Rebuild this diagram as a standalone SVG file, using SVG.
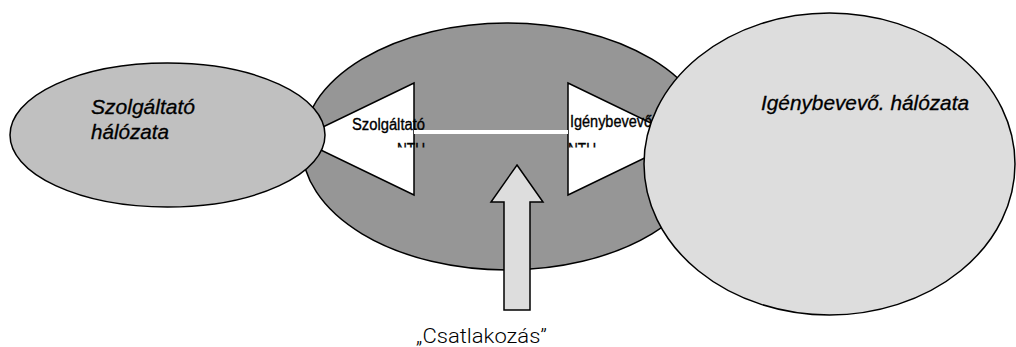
<svg xmlns="http://www.w3.org/2000/svg" width="1016" height="347" viewBox="0 0 1016 347">
<style>
.sh{stroke:#000;stroke-width:1.5}
.it{font-family:"Liberation Sans",Arial,sans-serif;font-style:italic;font-size:20px;fill:#000;stroke:#000;stroke-width:0.3}
.nt{font-family:"Liberation Sans",Arial,sans-serif;font-size:16px;fill:#000;stroke:#000;stroke-width:0.35}
.lb{font-family:Roboto,"Liberation Sans",sans-serif;font-weight:300;font-size:20px;fill:#000}
</style>
<defs>
<clipPath id="ntuclip"><rect x="380" y="140" width="240" height="7.5"/></clipPath>
</defs>
<rect width="1016" height="347" fill="#fff"/>
<g id="csatlakozasi-pont">
<ellipse class="sh" cx="507" cy="146.5" rx="205" ry="123.5" fill="#969696"/>
</g>
<g id="szolgaltato-ntu">
<polygon class="sh" points="414,83 414,195 298,139" fill="#fff"/>
<text class="nt" x="352" y="130" textLength="73" lengthAdjust="spacingAndGlyphs">Szolgáltató</text>
<text class="nt" x="397" y="154.5" textLength="28" lengthAdjust="spacingAndGlyphs" clip-path="url(#ntuclip)">NTU</text>
</g>
<g id="igenybevevo-ntu">
<polygon class="sh" points="568,83 568,195 684,139" fill="#fff"/>
<text class="nt" x="570" y="127" textLength="82" lengthAdjust="spacingAndGlyphs">Igénybevevő</text>
<text class="nt" x="568" y="154.5" textLength="28" lengthAdjust="spacingAndGlyphs" clip-path="url(#ntuclip)">NTU</text>
</g>
<g id="connectors">
<line x1="414" y1="132" x2="568" y2="132" stroke="#fff" stroke-width="4"/>
</g>
<g id="szolgaltato-halozata">
<ellipse class="sh" cx="167.5" cy="135" rx="157.5" ry="72" fill="#c0c0c0"/>
<text class="it" x="91" y="113.5" textLength="104" lengthAdjust="spacingAndGlyphs">Szolgáltató</text>
<text class="it" x="91" y="138.5" textLength="78" lengthAdjust="spacingAndGlyphs">hálózata</text>
</g>
<g id="igenybevevo-halozata">
<ellipse class="sh" cx="829.5" cy="164" rx="185.5" ry="151" fill="#dddddd"/>
<text class="it" x="761" y="109.5" textLength="208" lengthAdjust="spacingAndGlyphs">Igénybevevő. hálózata</text>
</g>
<g id="csatlakozas">
<polygon class="sh" points="517,165 543,202 530,202 530,310 504,310 504,202 491,202" fill="#dddddd"/>
<text class="lb" x="416" y="343" textLength="131" lengthAdjust="spacingAndGlyphs">„Csatlakozás”</text>
</g>
</svg>
